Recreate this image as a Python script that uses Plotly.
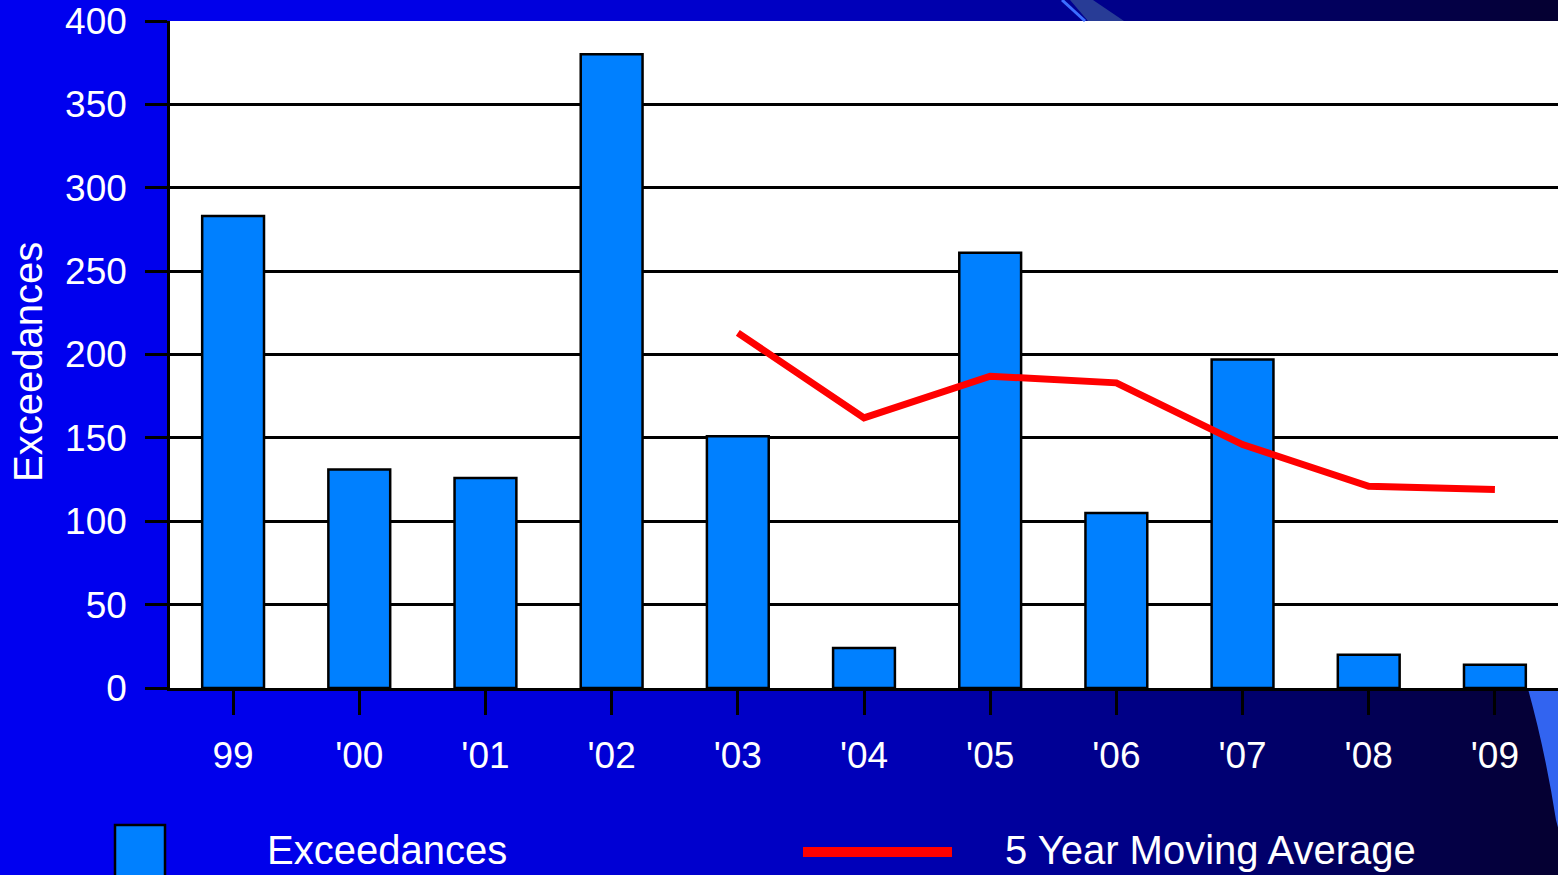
import plotly.graph_objects as go

years = ["99", "'00", "'01", "'02", "'03", "'04", "'05", "'06", "'07", "'08", "'09"]
exceedances = [283, 131, 126, 380, 151, 24, 261, 105, 197, 20, 14]
ma_years = ["'03", "'04", "'05", "'06", "'07", "'08", "'09"]
moving_avg = [213, 162, 187, 183, 146, 121, 119]
y_ticks = [0, 50, 100, 150, 200, 250, 300, 350, 400]

W, H = 1558, 875
L, R, T, B = 170, 1558, 21, 688
FONT = "Liberation Sans, Arial, sans-serif"


def px(x):
    return (x - L) / (R - L)


def py(y):
    return (B - y) / (B - T)


shapes = []
# background gradient stripes
stops = [(0, 240), (400, 232), (700, 205), (900, 180), (1100, 140), (1300, 100), (1450, 70), (1558, 48)]


def blue_at(x):
    for (x0, b0), (x1, b1) in zip(stops[:-1], stops[1:]):
        if x0 <= x <= x1:
            return b0 + (b1 - b0) * (x - x0) / (x1 - x0)
    return stops[-1][1]


step = 10
for x in range(0, W, step):
    b = int(round(blue_at(x + step / 2)))
    r = int(max(0, (120 - b) * 0.08))
    shapes.append(dict(type="rect", xref="paper", yref="paper", layer="below",
                       x0=px(x), x1=px(x + step + 1), y0=py(H + 2), y1=py(-2),
                       line=dict(width=0), fillcolor=f"rgb({r},0,{b})"))
# white plot area
shapes.append(dict(type="rect", xref="paper", yref="paper", layer="below",
                   x0=0, x1=1, y0=0, y1=1, line=dict(width=0), fillcolor="white"))
# decorative streaks
shapes.append(dict(type="path", xref="paper", yref="paper", layer="below",
                   path=f"M {px(1070)} {py(0)} L {px(1093)} {py(0)} L {px(1124)} {py(21)} L {px(1088)} {py(21)} Z",
                   line=dict(width=0), fillcolor="rgb(40,60,150)"))
shapes.append(dict(type="line", xref="paper", yref="paper", layer="below",
                   x0=px(1062), y0=py(0), x1=px(1085), y1=py(21),
                   line=dict(width=3, color="rgb(60,110,255)")))
shapes.append(dict(type="path", xref="paper", yref="paper", layer="below",
                   path=f"M {px(1528)} {py(689)} L {px(1560)} {py(689)} L {px(1560)} {py(835)} L {px(1556)} {py(820)} Q {px(1545)} {py(750)} {px(1528)} {py(689)} Z",
                   line=dict(width=0), fillcolor="rgb(50,100,240)"))
# legend swatches
shapes.append(dict(type="rect", xref="paper", yref="paper", layer="above",
                   x0=px(115), x1=px(165), y0=py(885), y1=py(825),
                   line=dict(width=2.5, color="black"), fillcolor="#0080FF"))
shapes.append(dict(type="line", xref="paper", yref="paper", layer="above",
                   x0=px(803), x1=px(952), y0=py(852), y1=py(852),
                   line=dict(width=10, color="#FF0000")))

annotations = [
    dict(text="Exceedances", xref="paper", yref="paper", x=px(28), y=py(362),
         textangle=-90, showarrow=False, xanchor="center", yanchor="middle",
         font=dict(family=FONT, size=40, color="white")),
    dict(text="Exceedances", xref="paper", yref="paper", x=px(265), y=py(850),
         showarrow=False, xanchor="left", yanchor="middle",
         font=dict(family=FONT, size=40, color="white")),
    dict(text="5 Year Moving Average", xref="paper", yref="paper", x=px(1003), y=py(850),
         showarrow=False, xanchor="left", yanchor="middle",
         font=dict(family=FONT, size=40, color="white")),
]

fig = go.Figure()
fig.add_trace(go.Bar(x=years, y=exceedances, width=0.49, name="Exceedances",
                     marker=dict(color="#0080FF", line=dict(color="black", width=2.5))))
fig.add_trace(go.Scatter(x=ma_years, y=moving_avg, mode="lines", name="5 Year Moving Average",
                         line=dict(color="#FF0000", width=7)))

fig.update_layout(
    width=W, height=H,
    margin=dict(l=L, r=W - R, t=T, b=H - B),
    paper_bgcolor="#0000EE", plot_bgcolor="white",
    showlegend=False,
    shapes=shapes, annotations=annotations,
    font=dict(family=FONT, color="white"),
)
fig.update_xaxes(type="category", range=[-0.5, 10.5], showgrid=False,
                 showline=True, linecolor="black", linewidth=2.5,
                 ticks="outside", ticklen=24, tickwidth=2.5, tickcolor="black",
                 tickfont=dict(family=FONT, size=37, color="white"),
                 ticklabelstandoff=9)
fig.update_yaxes(range=[0, 400], tickvals=y_ticks, showgrid=True,
                 gridcolor="black", gridwidth=2.5, zeroline=False,
                 showline=True, linecolor="black", linewidth=2.5,
                 ticks="outside", ticklen=22, tickwidth=2.5, tickcolor="black",
                 tickfont=dict(family=FONT, size=37, color="white"),
                 ticklabelstandoff=11)

fig.write_html("out.html", config={"displayModeBar": False},
               post_script="document.body.style.margin='0px';document.body.style.overflow='hidden';")
